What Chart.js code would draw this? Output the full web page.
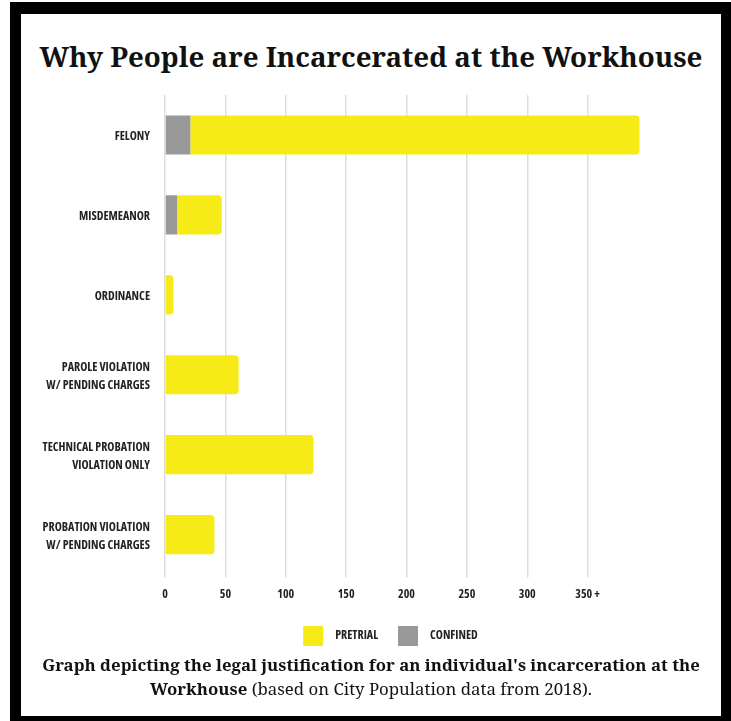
<!DOCTYPE html>
<html>
<head>
<meta charset="utf-8">
<script src="https://cdn.jsdelivr.net/npm/chart.js@4"></script>
<style>
  html, body { margin: 0; padding: 0; background: #fff; width: 731px; height: 721px; overflow: hidden; }
  #frame { position: absolute; left: 10px; top: 2px; width: 721px; height: 719px; background: #000; }
  #inner { position: absolute; left: 21px; top: 14px; width: 700px; height: 702px; background: #fff; }
  .serif { font-family: "Noto Serif", "Liberation Serif", serif; font-stretch: 92%; color: #111; }
  #title { position: absolute; left: 21px; top: 36px; width: 700px; text-align: center;
           font-weight: bold; font-size: 29px; line-height: 40px; white-space: nowrap; }
  #chartWrap { position: absolute; left: 21px; top: 85px; }
  #caption { position: absolute; left: 21px; top: 653px; width: 700px; text-align: center;
             font-size: 16px; line-height: 24px; white-space: nowrap; }
  #caption b { font-weight: bold; }
</style>
</head>
<body>
<div id="frame"></div>
<div id="inner"></div>
<div id="title" class="serif"><span id="titleText">Why People are Incarcerated at the Workhouse</span></div>
<div id="chartWrap"><canvas id="c" width="700" height="571"></canvas></div>
<div id="caption" class="serif"><b id="capLine1">Graph depicting the legal justification for an individual's incarceration at the</b><br><b>Workhouse</b> (based on City Population data from 2018).</div>
<script>
// fit header/caption text to the reference widths
function fitWidth(sizeEl, measureEl, target) {
  const base = parseFloat(getComputedStyle(sizeEl).fontSize);
  const w = measureEl.getBoundingClientRect().width;
  sizeEl.style.fontSize = (base * target / w).toFixed(2) + 'px';
}
fitWidth(document.getElementById('title'), document.getElementById('titleText'), 663);
fitWidth(document.getElementById('caption'), document.getElementById('capLine1'), 658);

const categories = [
  ['FELONY'],
  ['MISDEMEANOR'],
  ['ORDINANCE'],
  ['PAROLE VIOLATION', 'W/ PENDING CHARGES'],
  ['TECHNICAL PROBATION', 'VIOLATION ONLY'],
  ['PROBATION VIOLATION', 'W/ PENDING CHARGES']
];
const confined = [21, 10, 0, 0, 0, 0];
const pretrial = [372, 37, 7, 61, 123, 41];
const xTicks = [0, 50, 100, 150, 200, 250, 300, 350];
const xTickLabels = ['0', '50', '100', '150', '200', '250', '300', '350 +'];

const labelFont = { family: '"Open Sans", "Roboto", sans-serif', weight: 'bold condensed', size: 12 };

// shift the legend block so it is centred like the reference
const legendShift = {
  id: 'legendShift',
  afterLayout(chart) {
    if (chart.legend) { chart.legend.left += 56; chart.legend.right += 56; }
  }
};

new Chart(document.getElementById('c'), {
  type: 'bar',
  data: {
    labels: categories,
    datasets: [
      { label: 'CONFINED', data: confined, backgroundColor: '#999999', borderRadius: 0,
        barPercentage: 0.49, categoryPercentage: 1 },
      { label: 'PRETRIAL', data: pretrial, backgroundColor: '#F6EA17', borderRadius: 4,
        barPercentage: 0.49, categoryPercentage: 1 }
    ]
  },
  plugins: [legendShift],
  options: {
    indexAxis: 'y',
    responsive: false,
    animation: false,
    devicePixelRatio: 1,
    layout: { padding: { top: 10, right: 73, left: 0, bottom: 0 } },
    plugins: {
      title: { display: false },
      tooltip: { enabled: false },
      legend: {
        position: 'bottom',
        reverse: true,
        labels: {
          boxWidth: 20, boxHeight: 20, padding: 14,
          color: '#222', font: labelFont,
          generateLabels(chart) {
            const items = Chart.defaults.plugins.legend.labels.generateLabels(chart);
            items.forEach(it => {
              it.text = '\u2002' + it.text + (it.datasetIndex === 1 ? '\u2002' : '');
            });
            return items;
          }
        }
      }
    },
    scales: {
      x: {
        stacked: true,
        min: 0, max: 400,
        afterBuildTicks: (scale) => { scale.ticks = xTicks.map(v => ({ value: v })); },
        ticks: {
          color: '#222', font: labelFont, padding: 10,
          callback: (v) => { const i = xTicks.indexOf(v); return i >= 0 ? xTickLabels[i] : ''; }
        },
        grid: { color: '#dddddd', lineWidth: 1.5, tickLength: 3, drawTicks: true },
        border: { display: false }
      },
      y: {
        stacked: true,
        afterFit: (scale) => { scale.width = 144; scale.paddingTop = 0; scale.paddingBottom = 0; },
        ticks: { color: '#222', font: Object.assign({}, labelFont, { lineHeight: 1.5 }), padding: 7, labelOffset: 2 },
        grid: { display: false },
        border: { display: false }
      }
    }
  }
});
</script>
</body>
</html>
